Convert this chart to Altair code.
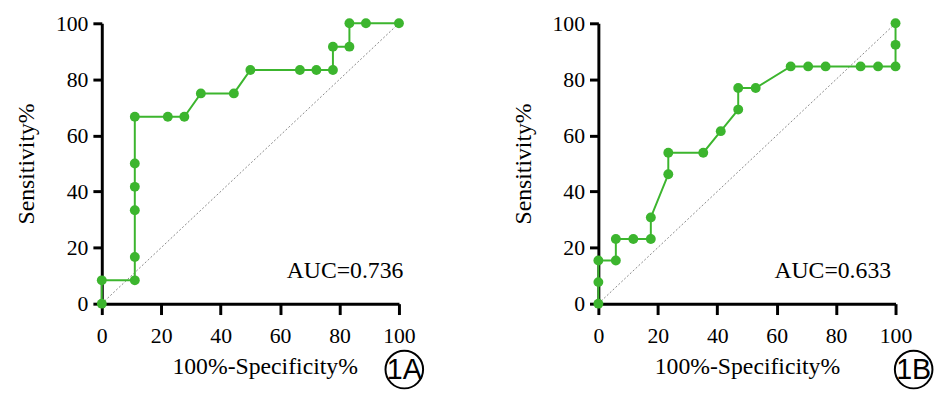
import altair as alt
import pandas as pd

# Panel 1A ROC points (100%-Specificity%, Sensitivity%)
a_fpr = [0, 0, 11.11, 11.11, 11.11, 11.11, 11.11, 11.11, 22.22, 27.78, 33.33, 44.44,
         50.0, 66.67, 72.22, 77.78, 77.78, 83.33, 83.33, 88.89, 100]
a_sens = [0, 8.33, 8.33, 16.67, 33.33, 41.67, 50.0, 66.67, 66.67, 66.67, 75.0, 75.0,
          83.33, 83.33, 83.33, 83.33, 91.67, 91.67, 100, 100, 100]

# Panel 1B ROC points
b_fpr = [0, 0, 0, 5.88, 5.88, 11.76, 17.65, 17.65, 23.53, 23.53, 35.29, 41.18, 47.06,
         47.06, 52.94, 64.71, 70.59, 76.47, 88.24, 94.12, 100, 100, 100]
b_sens = [0, 7.69, 15.38, 15.38, 23.08, 23.08, 23.08, 30.77, 46.15, 53.85, 53.85, 61.54,
          69.23, 76.92, 76.92, 84.62, 84.62, 84.62, 84.62, 84.62, 84.62, 92.31, 100]

ticks = [0, 20, 40, 60, 80, 100]
auc_labels = ["AUC=0.736", "AUC=0.633"]
panel_labels = ["1A", "1B"]

GREEN = "#3cb52e"
SERIF = "Liberation Serif"
W, H = 301, 284


def panel(fpr, sens, auc, tag, auc_x, tag_x, title_x=None):
    df = pd.DataFrame({"fpr": fpr, "sens": sens, "order": list(range(len(fpr)))})
    xax = dict(values=ticks, title="100%-Specificity%", labelFlush=False)
    if title_x is not None:
        xax["titleX"] = title_x
    x = alt.X("fpr:Q", scale=alt.Scale(domain=[0, 100], nice=False),
              axis=alt.Axis(**xax))
    y = alt.Y("sens:Q", scale=alt.Scale(domain=[0, 100], nice=False),
              axis=alt.Axis(values=ticks, title="Sensitivity%", labelFlush=False))
    diag = alt.Chart(pd.DataFrame({"fpr": [0, 100], "sens": [0, 100]})).mark_line(
        color="#888888", strokeWidth=1, strokeDash=[2, 2]
    ).encode(x=x, y=y)
    line = alt.Chart(df).mark_line(color=GREEN, strokeWidth=2).encode(
        x=x, y=y, order="order:Q")
    pts = alt.Chart(df).mark_circle(color=GREEN, size=100, opacity=1).encode(
        x=x, y=y)
    auc_t = alt.Chart(pd.DataFrame({"t": [auc]})).mark_text(
        font=SERIF, fontSize=24, align="right", baseline="alphabetic",
        color="black"
    ).encode(x=alt.datum(auc_x), y=alt.datum(9), text="t:N")
    circ = alt.Chart(pd.DataFrame({"t": [tag]})).mark_point(
        shape="circle", size=1450, filled=False, color="black", strokeWidth=2,
        opacity=1, clip=False
    ).encode(x=alt.datum(tag_x), y=alt.datum(-23.5))
    tag_t = alt.Chart(pd.DataFrame({"t": [tag]})).mark_text(
        font="Liberation Sans", fontSize=29, align="center", baseline="middle",
        color="black", clip=False, dy=1
    ).encode(x=alt.datum(tag_x), y=alt.datum(-23.5), text="t:N")
    return alt.layer(diag, line, pts, auc_t, circ, tag_t).properties(
        width=W, height=H)


pa = panel(a_fpr, a_sens, auc_labels[0], panel_labels[0], 101.5, 101.8, title_x=165)
pb = panel(b_fpr, b_sens, auc_labels[1], panel_labels[1], 98.5, 106.1)

chart = alt.hconcat(pa, pb, spacing=202, bounds="flush").properties(
    padding={"left": 7, "top": 2, "right": 0, "bottom": 0}
).configure(background="white").configure_view(stroke=None).configure_axis(
    grid=False, domainColor="black", domainWidth=3, tickColor="black",
    tickWidth=3, labelFont=SERIF, labelFontSize=22, labelColor="black",
    titleFont=SERIF, titleFontSize=24, titleFontWeight="normal",
    titleColor="black", labelFlush=False
).configure_axisX(
    tickSize=11, labelPadding=11, titlePadding=9
).configure_axisY(
    tickSize=9, labelPadding=5, titlePadding=17
)

chart.save("out.html", embed_options={"renderer": "svg", "actions": False})
